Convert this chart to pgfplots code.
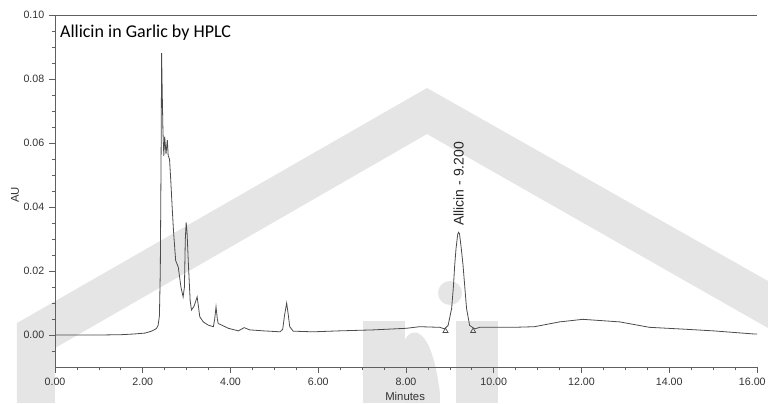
\documentclass[border=0pt]{standalone}
\usepackage{fontspec}
\setmainfont{Liberation Sans}
\newfontfamily\carlito{Carlito}
\usepackage{pgfplots}
\pgfplotsset{compat=1.18}
\definecolor{wm}{RGB}{229,229,229}
\definecolor{trace}{RGB}{75,75,75}
\definecolor{axgray}{RGB}{95,95,95}
\begin{document}
\begin{tikzpicture}
\begin{axis}[
    scale only axis, width=526.5pt, height=264pt,
    xmin=0, xmax=16, ymin=-0.01, ymax=0.10,
    axis lines*=left, axis on top, clip=false,
    axis line style={axgray, line width=0.6pt},
    xtick={0,2,4,6,8,10,12,14,16}, minor x tick num=3,
    xticklabels={0.00,2.00,4.00,6.00,8.00,10.00,12.00,14.00,\hspace*{-7pt}16.00},
    ytick={0,0.02,0.04,0.06,0.08,0.10},
    minor ytick={-0.005,0.005,0.01,0.015,0.025,0.03,0.035,0.045,0.05,0.055,0.065,0.07,0.075,0.085,0.09,0.095},
    tick align=outside, major tick length=4.5pt, minor tick length=2.5pt,
    tick style={axgray, line width=0.5pt},
    tick label style={font=\fontsize{8}{9}\selectfont, text=black!80},
    /pgf/number format/assume math mode=true,
    yticklabel style={/pgf/number format/.cd, fixed, fixed zerofill, precision=2},
    scaled y ticks=false,
]
% watermark
\fill[wm] (axis cs:-0.8661,-0.02125) -- (axis cs:-0.8661,0.00375) -- (axis cs:8.4786,0.07719)
  -- (axis cs:16.2507,0.016875) -- (axis cs:16.2507,0.0021875) -- (axis cs:8.4786,0.0628)
  -- (axis cs:0,-0.00406) -- (axis cs:0,-0.02125) -- cycle;
\fill[wm] (axis cs:7.020,-0.02125) rectangle (axis cs:7.977,0.004375);
\fill[wm] (axis cs:7.977,-0.02125) -- (axis cs:7.977,-0.00156)
  .. controls (axis cs:8.14,0.00312) and (axis cs:8.59,0.00250) .. (axis cs:8.77,-0.0178)
  -- (axis cs:8.77,-0.02125) -- cycle;
\fill[wm] (axis cs:9.140,-0.02125) rectangle (axis cs:10.097,0.004375);
\fill[wm] (axis cs:9.003,0.013125) circle[radius=9pt];

\draw[axgray, line width=0.6pt] (axis cs:0,0.10) -- (axis cs:16,0.10);

\addplot[trace, line width=0.6pt] coordinates {
(0.00,0.0000) (0.50,0.0000) (1.00,0.0000) (1.50,0.0001) (1.78,0.0003)
(2.05,0.0006) (2.20,0.0012) (2.31,0.0020) (2.35,0.0030) (2.38,0.0060)
(2.40,0.0200) (2.42,0.0600) (2.43,0.0881) (2.445,0.0750) (2.46,0.0640)
(2.48,0.0560) (2.50,0.0620) (2.53,0.0565) (2.56,0.0610) (2.58,0.0560)
(2.61,0.0550) (2.64,0.0480) (2.67,0.0400) (2.70,0.0327) (2.75,0.0233)
(2.81,0.0212) (2.87,0.0150) (2.92,0.0119) (2.95,0.0150) (2.97,0.0300)
(2.99,0.0352) (3.01,0.0320) (3.04,0.0223) (3.08,0.0109) (3.11,0.0078)
(3.17,0.0090) (3.24,0.0119) (3.30,0.0057) (3.38,0.0041) (3.49,0.0031)
(3.61,0.0026) (3.64,0.0050) (3.67,0.0088) (3.70,0.0050) (3.72,0.0036)
(3.80,0.0031) (3.95,0.0021) (4.18,0.0013) (4.31,0.0023) (4.44,0.0016)
(4.75,0.0013) (5.13,0.0010) (5.19,0.0018) (5.23,0.0060) (5.28,0.0100)
(5.32,0.0060) (5.35,0.0026) (5.43,0.0012) (5.88,0.0010) (6.49,0.0013)
(7.25,0.0016) (8.01,0.0021) (8.31,0.0026) (8.77,0.0024) (8.88,0.0019)
(8.96,0.0030) (9.04,0.0083) (9.08,0.0150) (9.11,0.0218) (9.14,0.0270)
(9.18,0.0316) (9.20,0.0321) (9.22,0.0316) (9.26,0.0270) (9.30,0.0218)
(9.34,0.0150) (9.38,0.0083) (9.45,0.0030) (9.57,0.0019) (9.68,0.0024)
(10.44,0.0024) (10.93,0.0026) (11.50,0.0041) (12.03,0.0049) (12.87,0.0041)
(13.55,0.0024) (14.24,0.0019) (15.00,0.0013) (15.95,0.0003) (16.00,0.0003)
};
\addplot[only marks, mark=triangle, mark size=2.2pt, mark options={trace, line width=0.5pt}]
  coordinates {(8.90,0.00125) (9.53,0.00125)};

\node[rotate=90, anchor=west, inner sep=0pt, font=\fontsize{10.5}{11}\selectfont, text=black!85]
  at (axis cs:9.20,0.0340) {Allicin - 9.200};
\node[anchor=base west, inner sep=0pt, font=\carlito\fontsize{13.5}{15}\selectfont]
  at (axis cs:0.11,0.0930) {Allicin in Garlic by HPLC};
\node[font=\fontsize{8.5}{9}\selectfont, text=black!80] at (axis cs:7.98,-0.0192) {Minutes};
\node[rotate=90, font=\fontsize{8.5}{9}\selectfont, text=black!80] at (axis cs:-0.912,0.04375) {AU};

\coordinate (bbsw) at (axis cs:-1.2536,-0.02125);
\coordinate (bbne) at (axis cs:16.2507,0.10469);
\end{axis}
\pgfresetboundingbox
\useasboundingbox (bbsw) rectangle (bbne);
\end{tikzpicture}
\end{document}
